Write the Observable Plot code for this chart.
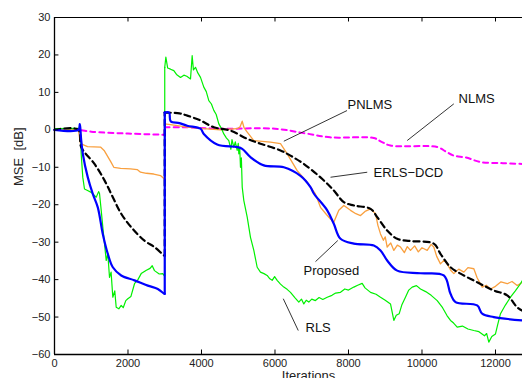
<!DOCTYPE html>
<html>
<head>
<meta charset="utf-8">
<script src="https://cdn.jsdelivr.net/npm/d3@7"></script>
<script src="https://cdn.jsdelivr.net/npm/@observablehq/plot@0.6"></script>
<style>
  html, body { margin: 0; padding: 0; background: #fff; }
  #chart svg { display: block; }
</style>
</head>
<body>
<div id="chart"></div>
<script>
// ---- Data ----
const xTicks = [0, 2000, 4000, 6000, 8000, 10000, 12000];
const yTicks = [-60, -50, -40, -30, -20, -10, 0, 10, 20, 30];

const nlms = [
  [0,0],[650,0],[1000,-0.5],[2000,-1],[2990,-1.3],[3000,-1.3],[3000,0.7],[3500,0.7],
  [4500,0.3],[6000,0.3],[6800,-0.9],[7500,-2],[8690,-2.2],[8900,-3.2],[9143,-4.2],
  [10414,-4.6],[10650,-5.8],[10865,-6.9],[11200,-7.4],[11592,-8.6],[12200,-8.9],[12735,-9.1]
];

const pnlms = [
  [0,0],[650,0],[707,-3.7],[900,-4.5],[1252,-4.6],[1350,-5.5],[1434,-6.9],[1530,-8.5],
  [1614,-10],[1800,-10.3],[2068,-10.4],[2250,-10.6],[2340,-11.3],[2500,-11.6],[2700,-11.8],
  [2884,-12.2],[2990,-13.1],[3000,-13.1],[3000,1.6],[3300,1.2],[3611,0.7],[4063,0.3],
  [4517,0],[4971,0.3],[5050,0.8],[5108,2.3],[5160,0.5],[5244,-0.6],[5424,-2.9],[5877,-3.3],
  [6150,-3.7],[6332,-6.4],[6604,-10.9],[6876,-14],[7100,-17.1],[7238,-20.7],[7400,-22.6],
  [7510,-23.8],[7600,-24.7],[7736,-21.5],[7873,-20.2],[8055,-21.5],[8200,-22.4],[8327,-22.9],
  [8450,-21.8],[8600,-21.1],[8736,-22.4],[8800,-25.5],[8871,-27.8],[8950,-29.5],[9000,-28.6],
  [9053,-31.3],[9150,-30.2],[9234,-32.2],[9330,-30.8],[9416,-31.3],[9520,-32.8],[9600,-31.2],
  [9687,-32.2],[9800,-31.0],[9900,-32.6],[10000,-31.5],[10142,-32.2],[10250,-30.6],[10321,-31.3],
  [10400,-33.8],[10503,-35.8],[10600,-34.8],[10685,-35.8],[10780,-37.5],[10867,-38.4],
  [11000,-37.2],[11139,-38],[11250,-36.8],[11411,-37.1],[11500,-39.5],[11639,-42],
  [11750,-41.5],[11865,-42.5],[12000,-41.8],[12150,-40.6],[12318,-41.1],[12450,-40.5],
  [12590,-41.6],[12735,-40.7]
];

const rls = [
  [0,0.3],[650,0.4],[700,0],[726,-6.4],[770,-12.7],[816,-15.8],[900,-16.2],[999,-16.7],
  [1135,-18],[1200,-16.5],[1225,-17],[1271,-21.5],[1330,-27.5],[1361,-30.4],[1407,-34.9],
  [1450,-33],[1497,-39.4],[1540,-38],[1587,-44.7],[1640,-43],[1679,-47.4],[1750,-47.8],
  [1815,-46.9],[1870,-47.5],[1940,-45.6],[1995,-45.1],[2080,-44.5],[2177,-41.1],[2270,-40],
  [2359,-38.4],[2500,-37.5],[2600,-37.0],[2659,-36.3],[2721,-37.6],[2850,-38.5],[2947,-38.4],
  [2990,-39],[3000,-39],[3000,16.7],[3030,19.4],[3080,16.5],[3157,16.2],[3247,15.8],
  [3320,14.8],[3429,14],[3520,14.6],[3600,14.3],[3701,13.6],[3746,19.8],[3780,16],
  [3837,16.7],[3900,15.2],[3973,14],[4063,11.4],[4130,10.2],[4199,7.8],[4270,6.9],
  [4335,5.2],[4400,4.1],[4471,1.6],[4540,0.4],[4607,-1.1],[4680,-2.2],[4743,-2.9],
  [4800,-5.2],[4830,-2.6],[4879,-4.6],[4920,-3.2],[4971,-5.5],[5000,-3.6],[5015,-6.4],
  [5040,-4.8],[5061,-10],[5085,-7.5],[5108,-15.3],[5152,-18.9],[5244,-23.3],[5333,-28.7],
  [5424,-32.2],[5515,-36.7],[5605,-38],[5700,-38.4],[5787,-38.9],[5860,-39.8],[5923,-40.2],
  [5990,-39.2],[6059,-40.2],[6150,-41.2],[6240,-42],[6330,-42.6],[6422,-43.4],[6540,-44.8],
  [6648,-46],[6720,-45.2],[6784,-46.5],[6850,-45.5],[6920,-46],[7000,-45.2],[7100,-45.6],
  [7200,-44.8],[7300,-45.3],[7421,-44.7],[7550,-44.2],[7650,-43.6],[7782,-43.4],[7900,-42.5],
  [8000,-42.8],[8145,-42],[8250,-41.5],[8372,-41],[8450,-42.2],[8600,-43.4],[8750,-43.9],
  [8871,-44.7],[9000,-45.5],[9143,-46.5],[9234,-50.9],[9300,-49.5],[9380,-49.1],[9450,-46.8],
  [9550,-44.7],[9640,-42.8],[9733,-42],[9850,-41.6],[9959,-42.5],[10100,-43.2],[10250,-44.2],
  [10414,-45.6],[10560,-47.5],[10680,-49.6],[10776,-50.9],[10860,-51.6],[10958,-52.7],
  [11100,-52.4],[11250,-53.2],[11410,-53.6],[11550,-53.9],[11700,-55],[11760,-54.4],
  [11818,-56.7],[11900,-55.2],[12000,-54.5],[12060,-52],[12136,-49.1],[12270,-46.8],
  [12408,-44.7],[12540,-43.0],[12680,-41.1],[12735,-40.2]
];

const erlsDcd = [
  [0,0],[650,0],[726,-4.6],[1088,-9.1],[1361,-13.5],[1587,-18],[1815,-22.4],[2087,-26],
  [2449,-29.6],[2721,-31.3],[2990,-33.6],[3000,-33.6],[3000,4.6],[3400,4.4],[3611,3.8],
  [3973,2.5],[4335,0.7],[4789,-0.2],[5244,-2.4],[5605,-3.7],[6150,-5.5],[6422,-6.9],
  [6784,-9.1],[7238,-12.7],[7600,-16.2],[7873,-19.3],[8145,-20.2],[8600,-21.1],[8781,-23.3],
  [9053,-26.9],[9325,-29.1],[9687,-29.7],[10321,-30.4],[10503,-33.1],[10776,-36.7],
  [11048,-38.4],[11502,-40.7],[11954,-42.9],[12318,-44.2],[12590,-47.4],[12735,-48.3]
];

const proposed = [
  [0,0],[650,0],[690,1.5],[720,-2],[770,-6.4],[906,-12.7],[1042,-17.1],[1178,-20.7],
  [1314,-27.8],[1450,-33.1],[1587,-36.7],[1815,-38.9],[2177,-40.2],[2539,-41.6],[2811,-42.5],
  [2990,-43.8],[3000,-43.8],[3000,4.6],[3120,4.6],[3160,2.3],[3400,1.8],[3611,1.1],
  [3973,0.3],[4063,-1.1],[4427,-3.9],[4971,-4.6],[5108,-5.1],[5333,-7.3],[5696,-9.5],
  [6240,-10],[6694,-12.3],[6966,-15.3],[7056,-17],[7421,-21.5],[7600,-25.1],[7782,-29.1],
  [8145,-30.4],[8690,-30.9],[8871,-32.2],[9053,-34.9],[9325,-37.6],[9959,-38.3],[10593,-38.9],
  [10776,-43.8],[10912,-46],[11502,-46.9],[11638,-49.1],[11954,-50],[12735,-50.9]
];

// annotation labels and leader lines
const labels = ["PNLMS", "NLMS", "ERLS\u2212DCD", "Proposed", "RLS"];
const labelX = [7973, 10994, 8681, 6776, 6830];
const labelY = [6.8, 8.4, -11.5, -37.6, -53];
const leadX1 = [7960, 10866, 8510, 7102, 6633];
const leadY1 = [5.15, 6.94, -11.32, -35.2, -53.6];
const leadX2 = [6240, 9598, 7511, 7709, 6225];
const leadY2 = [-3.04, -2.86, -12.66, -29.56, -45.1];

// ---- build tables for the library ----
// split each series into segments at the vertical jump (repeated x), so
// smoothing curves keep the jump straight
function segments(arr) {
  const out = [];
  let seg = 0;
  for (let i = 0; i < arr.length; i++) {
    const [x, y] = arr[i];
    if (i > 0 && x === arr[i - 1][0]) {
      // vertical jump: its own 2-point segment
      const [px, py] = arr[i - 1];
      seg++;
      out.push({x: px, y: py, z: seg});
      out.push({x, y, z: seg});
      seg++;
    }
    out.push({x, y, z: seg});
  }
  return out;
}
const ann = labels.map((t, i) => ({t, x: labelX[i], y: labelY[i], x1: leadX1[i], y1: leadY1[i], x2: leadX2[i], y2: leadY2[i]}));

const font = "'Liberation Sans', Arial, Helvetica, sans-serif";

const chart = Plot.plot({
  width: 522,
  height: 378,
  marginLeft: 54,
  marginRight: 0,
  marginTop: 17,
  marginBottom: 24,
  style: {fontFamily: font, fontSize: "11px", color: "#222", background: "#fff"},
  x: {domain: [0, 12735]},
  y: {domain: [-60, 30]},
  marks: [
    Plot.axisX(xTicks, {tickSize: 0, tickPadding: 5, fontSize: 11, label: null, tickFormat: d => String(d)}),
    Plot.axisY(yTicks, {tickSize: 0, tickPadding: 4, fontSize: 11, label: null}),
    Plot.text(["MSE  [dB]"], {frameAnchor: "left", dx: -36, rotate: -90, fontSize: 13, fill: "#222"}),
    Plot.text(["Iterations"], {x: [6912], y: [-60], dy: 16, lineAnchor: "top", fontSize: 13, fill: "#222"}),
    Plot.line(segments(nlms), {x: "x", y: "y", z: "z", stroke: "#ff00ff", strokeWidth: 2, strokeDasharray: "5,4", curve: "catmull-rom"}),
    Plot.line(segments(pnlms), {x: "x", y: "y", z: "z", stroke: "#f9a03f", strokeWidth: 1.3}),
    Plot.line(segments(rls), {x: "x", y: "y", z: "z", stroke: "#00f000", strokeWidth: 1.2}),
    Plot.line(segments(erlsDcd), {x: "x", y: "y", z: "z", stroke: "#000", strokeWidth: 2.2, strokeDasharray: "6,4", curve: "catmull-rom"}),
    Plot.line(segments(proposed), {x: "x", y: "y", z: "z", stroke: "#0000ff", strokeWidth: 2.2, curve: "catmull-rom"}),
    Plot.link(ann, {x1: "x1", y1: "y1", x2: "x2", y2: "y2", stroke: "#000", strokeWidth: 0.8}),
    Plot.text(ann, {x: "x", y: "y", text: "t", textAnchor: "start", fontSize: 13, fill: "#111"}),
    Plot.ruleY([30], {stroke: "#000", strokeWidth: 1}),
    Plot.ruleY([-60], {stroke: "#000", strokeWidth: 1.3}),
    Plot.ruleX([0], {stroke: "#000", strokeWidth: 1.3}),
    Plot.ruleX(xTicks, {y1: -60, y2: -58.8, stroke: "#000", strokeWidth: 1}),
    Plot.ruleX(xTicks, {y1: 30, y2: 28.8, stroke: "#000", strokeWidth: 1}),
    Plot.ruleY(yTicks, {x1: 0, x2: 120, stroke: "#000", strokeWidth: 1})
  ]
});

document.getElementById("chart").appendChild(chart);
</script>
</body>
</html>
